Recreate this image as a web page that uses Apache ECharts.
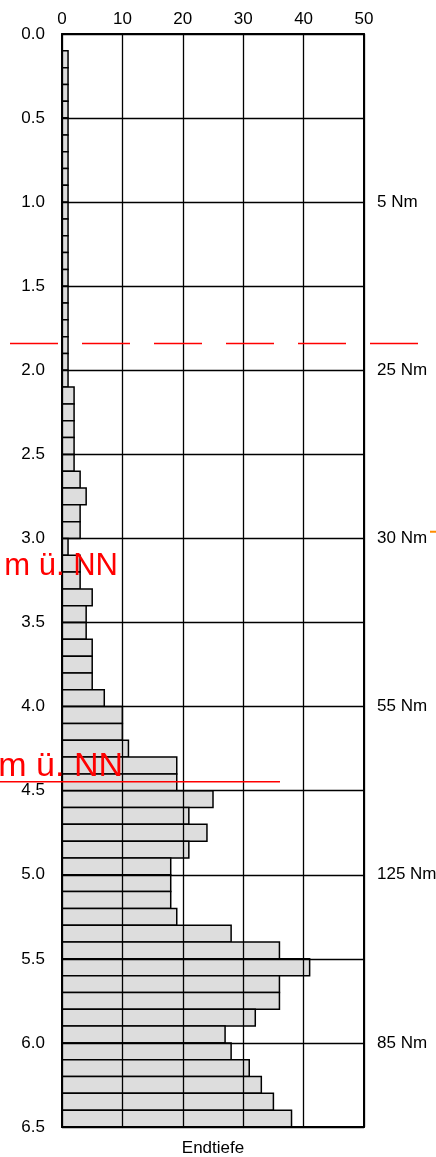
<!DOCTYPE html>
<html>
<head>
<meta charset="utf-8">
<script src="https://cdn.jsdelivr.net/npm/echarts@6/dist/echarts.min.js"></script>
<style>html,body{margin:0;padding:0;background:#fff;}#c{width:436px;height:1157px;}</style>
</head>
<body>
<div id="c"></div>
<script>
// depth intervals (top of each 0.1 step) and values
const depthStart = [0.1,0.2,0.3,0.4,0.5,0.6,0.7,0.8,0.9,1.0,1.1,1.2,1.3,1.4,1.5,1.6,1.7,1.8,1.9,2.0,
  2.1,2.2,2.3,2.4,2.5,2.6,2.7,2.8,2.9,3.0,3.1,3.2,3.3,3.4,3.5,3.6,3.7,3.8,3.9,4.0,
  4.1,4.2,4.3,4.4,4.5,4.6,4.7,4.8,4.9,5.0,5.1,5.2,5.3,5.4,5.5,5.6,5.7,5.8,5.9,6.0,
  6.1,6.2,6.3,6.4];
const values = [1,1,1,1,1,1,1,1,1,1,1,1,1,1,1,1,1,1,1,1,
  2,2,2,2,2,3,4,3,3,1,3,3,5,4,4,5,5,5,7,10,
  10,11,19,19,25,21,24,21,18,18,18,19,28,36,41,36,36,32,27,28,
  31,33,35,38];
const step = 0.1;
const xTicks = [0,10,20,30,40,50];
const yTicks = [0,0.5,1,1.5,2,2.5,3,3.5,4,4.5,5,5.5,6,6.5];
const rightLabels = {1:'5 Nm', 2:'25 Nm', 3:'30 Nm', 4:'55 Nm', 5:'125 Nm', 6:'85 Nm'};
const dashedDepth = 1.84;
const redLineDepth = 4.447;
const label1Depth = 3.26;
const label2Depth = 4.456;
const FONT = 'Liberation Sans, Arial, Helvetica, sans-serif';

const chart = echarts.init(document.getElementById('c'));
const data = depthStart.map((d,i)=>[d, values[i]]);
chart.setOption({
  animation:false,
  grid:{left:62,right:72,top:34,bottom:30,outerBoundsMode:'none',containLabel:false},
  xAxis:[{
    type:'value',position:'top',min:0,max:50,interval:10,z:5,
    axisLine:{show:true,lineStyle:{color:'#000',width:2}},
    axisTick:{show:false},
    axisLabel:{color:'#000',fontSize:17,fontFamily:FONT,margin:6},
    splitLine:{show:true,lineStyle:{color:'#000',width:1.3}}
  },{
    type:'value',position:'bottom',min:0,max:50,interval:10,z:5,
    axisLine:{show:true,onZero:false,lineStyle:{color:'#000',width:2}},
    axisTick:{show:false},axisLabel:{show:false},splitLine:{show:false},
    name:'Endtiefe',nameLocation:'middle',nameGap:13,
    nameTextStyle:{color:'#000',fontSize:17,fontFamily:FONT,verticalAlign:'top'}
  }],
  yAxis:[{
    type:'value',inverse:true,min:0,max:6.5,interval:0.5,position:'left',z:5,
    axisLine:{show:true,onZero:false,lineStyle:{color:'#000',width:2}},
    axisTick:{show:false},
    axisLabel:{color:'#000',fontSize:17,fontFamily:FONT,margin:17,formatter:v=>v.toFixed(1)},
    splitLine:{show:true,lineStyle:{color:'#000',width:1.3}}
  },{
    type:'value',inverse:true,min:0,max:6.5,interval:0.5,position:'right',z:5,
    axisLine:{show:true,onZero:false,lineStyle:{color:'#000',width:2}},
    axisTick:{show:false},
    axisLabel:{color:'#000',fontSize:17,fontFamily:FONT,margin:13,
      formatter:v=>rightLabels[Math.round(v*10)/10] || ''},
    splitLine:{show:false}
  }],
  series:[{
    type:'custom',xAxisIndex:0,yAxisIndex:0,z:2,
    renderItem:function(params,api){
      const d = api.value(0), v = api.value(1);
      const p0 = api.coord([0,d]);
      const p1 = api.coord([v,d+step]);
      return {type:'rect',shape:{x:p0[0],y:p0[1],width:p1[0]-p0[0],height:p1[1]-p0[1]},
        style:{fill:'#dddddd',stroke:'#000',lineWidth:1.5}};
    },
    encode:{x:1,y:0},
    data:data
  }]
});

function place(){
  const yD = chart.convertToPixel({yAxisIndex:0}, dashedDepth);
  const yR = chart.convertToPixel({yAxisIndex:0}, redLineDepth);
  const y1 = chart.convertToPixel({yAxisIndex:0}, label1Depth);
  const y2 = chart.convertToPixel({yAxisIndex:0}, label2Depth);
  const y3 = chart.convertToPixel({yAxisIndex:0}, 2.96);
  chart.setOption({graphic:[
    {type:'line',z:50,shape:{x1:10,y1:yD,x2:421,y2:yD},style:{stroke:'#ff0000',lineWidth:1.5,lineDash:[48,24]}},
    {type:'line',z:50,shape:{x1:0,y1:yR,x2:280,y2:yR},style:{stroke:'#ff0000',lineWidth:1.5}},
    {type:'text',z:50,x:118,y:y1,style:{text:'m ü. NN',fill:'#ff0000',font:'31px '+FONT,align:'right',verticalAlign:'bottom'}},
    {type:'text',z:50,x:123,y:y2,style:{text:'m ü. NN',fill:'#ff0000',font:'34px '+FONT,align:'right',verticalAlign:'bottom'}},
    {type:'line',z:50,shape:{x1:430,y1:y3,x2:436,y2:y3},style:{stroke:'#ff8c00',lineWidth:2}}
  ]});
}
place();
</script>
</body>
</html>
